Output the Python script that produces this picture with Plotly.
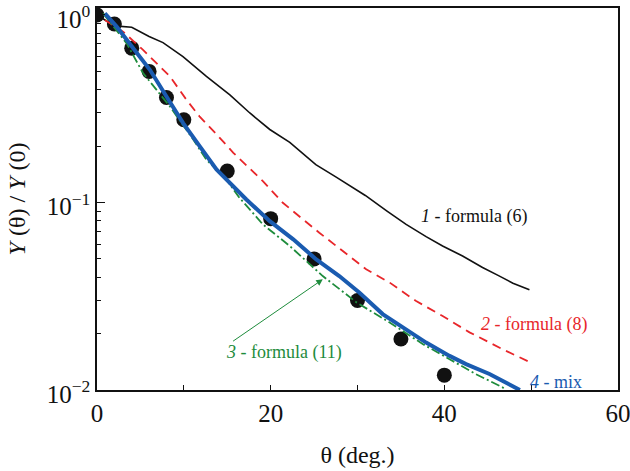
import numpy as np
import plotly.graph_objects as go

# ---- data ----
dots_x = [0, 2, 4, 6, 8, 10, 15, 20, 25, 30, 35, 40]
dots_y = [1.0, 0.895, 0.665, 0.50, 0.363, 0.276, 0.147, 0.082, 0.050, 0.030, 0.0187, 0.012]

f6_x = [0, 2.0, 4.0, 6.0, 7.6, 9.9, 12.6, 15.3, 17.6, 19.9, 22.2, 25.2, 27.5, 30.9, 33.4,
        35.6, 37.9, 39.8, 42.1, 44.4, 46.3, 47.9, 49.8]
f6_y = [1.0, 0.874, 0.86, 0.767, 0.712, 0.60, 0.47, 0.375, 0.30, 0.245, 0.209, 0.159, 0.137,
        0.109, 0.090, 0.0764, 0.0657, 0.0586, 0.0518, 0.045, 0.0406, 0.0371, 0.0342]

f8_x = [0.9, 3.0, 5.3, 8.4, 10.3, 11.8, 13.8, 15.7, 19.1, 21.4, 25.6, 31.0, 33.7, 36.7,
        39.8, 42.9, 46.7, 49.8]
f8_y = [0.94, 0.815, 0.651, 0.470, 0.353, 0.288, 0.230, 0.184, 0.130, 0.0996, 0.069, 0.044,
        0.0374, 0.0299, 0.0248, 0.0203, 0.0165, 0.0141]

f11_x = [0.7, 3.4, 5.3, 8.4, 11.1, 12.6, 14.9, 16.4, 19.1, 22.2, 26.0, 29.9, 33.7, 37.5,
         40.6, 43.6, 46.7, 47.1]
f11_y = [1.02, 0.707, 0.49, 0.325, 0.216, 0.169, 0.1325, 0.106, 0.0764, 0.0586, 0.0405,
         0.0293, 0.0229, 0.0176, 0.0146, 0.01217, 0.01034, 0.0100]

mix_x = [0.9, 2.26, 4.17, 6.09, 8.0, 9.92, 11.84, 13.76, 17.2, 19.9, 22.6, 25.25, 27.9, 30.2,
         32.9, 35.6, 37.9, 40.6, 42.5, 45.2, 48.2, 48.7]
mix_y = [1.02, 0.867, 0.665, 0.51, 0.3676, 0.265, 0.199, 0.150, 0.1037, 0.0795, 0.0636,
         0.0497, 0.0405, 0.0331, 0.0254, 0.0211, 0.0179, 0.0152, 0.01375, 0.01217, 0.01034, 0.0100]

x_ticks = [0, 20, 40, 60]
x_minor = [10, 30, 50]
y_ticks = [0.01, 0.1, 1]
y_ticktext = ["10<sup>\u22122</sup>", "10<sup>\u22121</sup>", "10<sup>0</sup>"]

BLACK = "#111111"
RED = "#e8262a"
GREEN = "#1e8c3c"
BLUE = "#1a5bb0"
FONT = "Liberation Serif"

fig = go.Figure()
fig.add_trace(go.Scatter(x=dots_x, y=dots_y, mode="markers",
                         marker=dict(size=15, color=BLACK), showlegend=False))
fig.add_trace(go.Scatter(x=f6_x, y=f6_y, mode="lines",
                         line=dict(color=BLACK, width=1.6), showlegend=False))
fig.add_trace(go.Scatter(x=f8_x, y=f8_y, mode="lines",
                         line=dict(color=RED, width=1.8, dash="9px,6px"), showlegend=False))
fig.add_trace(go.Scatter(x=f11_x, y=f11_y, mode="lines",
                         line=dict(color=GREEN, width=1.8, dash="9px,3px,2px,3px"),
                         showlegend=False))
fig.add_trace(go.Scatter(x=mix_x, y=mix_y, mode="lines",
                         line=dict(color=BLUE, width=4), showlegend=False))

minor_y = [m * 10.0 ** e for e in (-2, -1) for m in range(2, 10)]

fig.update_layout(
    width=630, height=471,
    margin=dict(l=97, r=12, t=8, b=81),
    paper_bgcolor="white", plot_bgcolor="white",
    font=dict(family=FONT, color=BLACK),
    xaxis=dict(range=[0, 60], tickvals=x_ticks, ticks="inside", ticklen=5,
               tickwidth=1, tickcolor=BLACK, automargin=False, ticklabeloverflow="allow",
               minor=dict(tickvals=x_minor, ticks="inside", ticklen=5, tickcolor=BLACK),
               showline=True, linecolor=BLACK, linewidth=1.5, mirror=True,
               showgrid=False, zeroline=False,
               tickfont=dict(size=25, family=FONT),
               title=dict(text="\u03b8 (deg.)", font=dict(size=24, family=FONT), standoff=20)),
    yaxis=dict(type="log", range=[-2, 0.037], tickvals=y_ticks, ticktext=y_ticktext,
               ticks="inside", ticklen=8, tickwidth=1, tickcolor=BLACK,
               automargin=False, ticklabeloverflow="allow", ticklabelshift=4,
               minor=dict(tickvals=minor_y, ticks="inside", ticklen=4, tickcolor=BLACK),
               showline=True, linecolor=BLACK, linewidth=1.5, mirror=True,
               showgrid=False, zeroline=False,
               tickfont=dict(size=25, family=FONT),
               title=dict(text="<i>Y</i> (\u03b8) / <i>Y</i> (0)",
                          font=dict(size=24, family=FONT), standoff=14)),
)

ann_font = 18
fig.add_annotation(x=43.45, y=-1.0745, text="<i>1</i> - formula (6)", showarrow=False,
                   font=dict(size=ann_font, color=BLACK, family=FONT))
fig.add_annotation(x=50.34, y=-1.649, text="<i>2</i> - formula (8)", showarrow=False,
                   font=dict(size=ann_font, color=RED, family=FONT))
fig.add_annotation(x=21.5, y=-1.798, text="<i>3</i> - formula (11)", showarrow=False,
                   font=dict(size=ann_font, color=GREEN, family=FONT))
fig.add_annotation(x=52.9, y=-1.957, text="<i>4</i> - mix", showarrow=False,
                   font=dict(size=ann_font, color=BLUE, family=FONT))
# arrow to curve 3
fig.add_annotation(x=26.0, y=-1.41, ax=15.5, ay=-1.745, axref="x", ayref="y",
                   xref="x", yref="y", text="", showarrow=True,
                   arrowhead=2, arrowsize=1.3, arrowwidth=1, arrowcolor=GREEN)

fig.write_html("out.html", config={"displayModeBar": False},
               post_script="document.body.style.margin='0px';document.body.style.padding='0px';")
